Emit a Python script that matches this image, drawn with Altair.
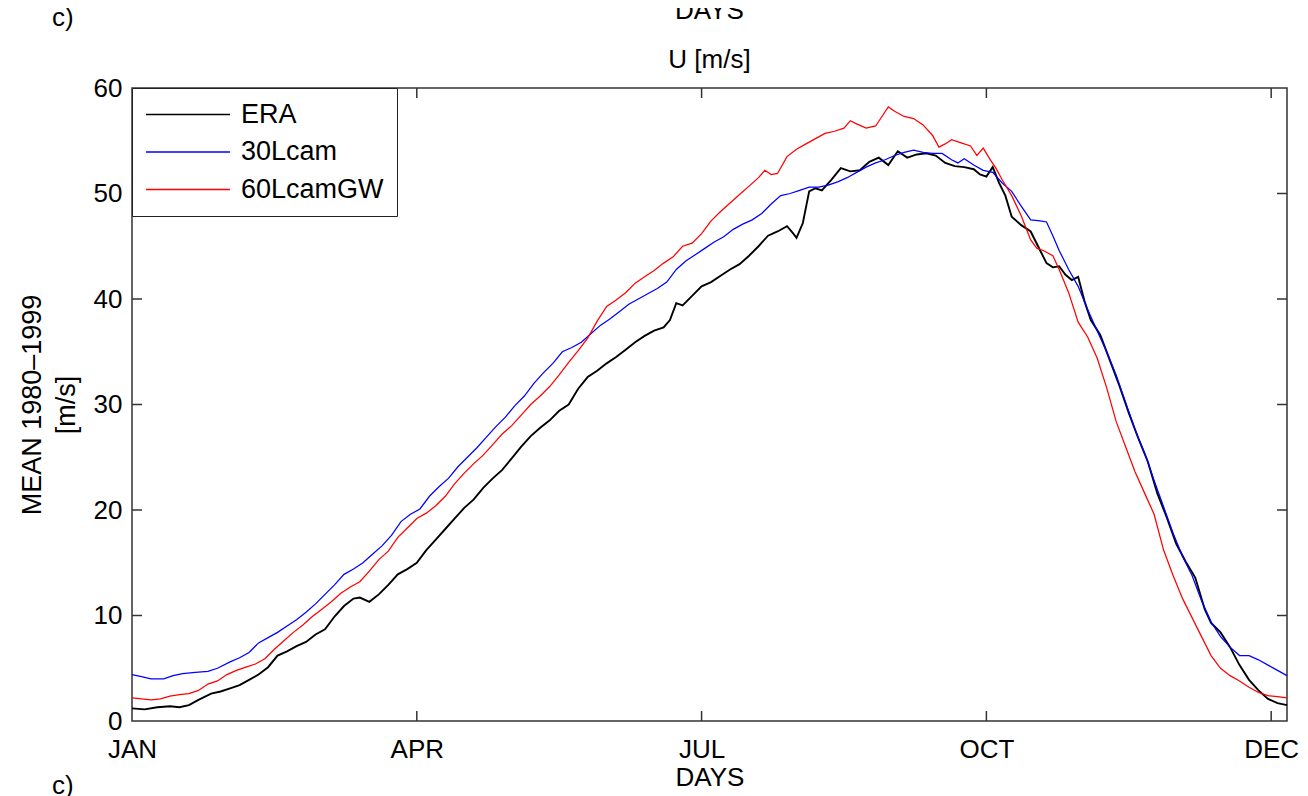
import altair as alt
import pandas as pd

FONT = "Liberation Sans"

series_names = ["ERA", "30Lcam", "60LcamGW"]
series_colors = ["#000000", "#0000ff", "#ff0000"]
series_widths = [1.9, 1.25, 1.25]

era_days = [0, 4, 8, 12, 15, 18, 21, 25, 28, 31, 34, 37, 40, 43, 46, 49, 52, 55, 58, 61, 64, 67, 70, 72, 75, 78, 81, 84, 87, 90,
            93, 96, 99, 102, 105, 108, 111, 114, 117, 120, 123, 126, 129, 132, 135, 138, 141, 144, 147, 150, 153, 156, 159, 162,
            165, 168, 170, 172, 174, 177, 180, 183, 186, 189, 192, 195, 198, 201, 204, 207, 209, 210, 212, 214, 216, 218, 221,
            224, 227, 230, 233, 236, 239, 242, 245, 248, 251, 254, 257, 260, 263, 266, 268, 270, 272, 274, 276, 278, 281, 284,
            287, 289, 291, 293, 295, 297, 299, 301, 303, 306, 309, 312, 315, 318, 321, 324, 327, 330, 333, 336, 339, 341, 344,
            347, 350, 353, 356, 359, 362, 365]
era_vals = [1.2, 1.1, 1.3, 1.4, 1.3, 1.5, 2.0, 2.6, 2.8, 3.1, 3.4, 3.9, 4.4, 5.1, 6.2, 6.6, 7.1, 7.5, 8.2, 8.7, 9.9, 10.9, 11.6,
            11.7, 11.3, 12.0, 12.9, 13.9, 14.4, 15.0, 16.2, 17.2, 18.2, 19.2, 20.2, 21.0, 22.1, 23.0, 23.8, 24.9, 26.0, 27.0,
            27.8, 28.5, 29.4, 30.0, 31.5, 32.6, 33.2, 33.9, 34.5, 35.2, 35.9, 36.5, 37.0, 37.3, 38.0, 39.6, 39.4, 40.3, 41.2,
            41.6, 42.2, 42.8, 43.3, 44.1, 45.0, 46.0, 46.4, 46.9, 46.2, 45.8, 47.2, 50.2, 50.5, 50.3, 51.3, 52.4, 52.1, 52.2,
            53.0, 53.4, 52.7, 54.0, 53.4, 53.7, 53.8, 53.6, 52.9, 52.6, 52.5, 52.3, 51.8, 51.6, 52.5, 51.0, 49.8, 47.8, 47.0,
            46.4, 44.6, 43.4, 43.0, 43.1, 42.3, 41.8, 42.1, 39.8, 38.0, 36.6, 34.2, 31.8, 29.2, 26.8, 24.6, 21.6, 19.3, 16.8,
            15.1, 13.6, 10.6, 9.3, 8.4, 7.0, 5.3, 3.9, 2.9, 2.1, 1.7, 1.5]

cam30_days = [0, 3, 6, 10, 13, 16, 20, 24, 27, 31, 34, 37, 40, 43, 46, 49, 52, 55, 58, 61, 64, 67, 70, 73, 76, 79, 82, 85, 88,
              91, 94, 97, 100, 103, 106, 109, 112, 115, 118, 121, 124, 127, 130, 133, 136, 139, 142, 145, 148, 151, 154, 157,
              160, 163, 166, 169, 172, 175, 178, 181, 184, 187, 190, 193, 196, 199, 202, 205, 208, 211, 214, 217, 220, 223,
              226, 229, 232, 235, 238, 241, 244, 247, 250, 253, 256, 259, 261, 263, 266, 269, 272, 275, 278, 281, 284, 287,
              289, 291, 293, 296, 299, 302, 305, 308, 311, 314, 317, 320, 323, 326, 329, 332, 335, 338, 341, 344, 347, 350,
              353, 356, 359, 362, 365]
cam30_vals = [4.4, 4.2, 4.0, 4.0, 4.3, 4.5, 4.6, 4.7, 5.0, 5.6, 6.0, 6.5, 7.4, 7.9, 8.4, 9.0, 9.6, 10.3, 11.1, 12.0, 12.9,
              13.9, 14.4, 15.0, 15.8, 16.6, 17.6, 18.9, 19.6, 20.1, 21.3, 22.2, 23.0, 24.1, 25.0, 25.9, 26.9, 27.9, 28.8,
              29.9, 30.8, 32.0, 33.0, 33.9, 35.0, 35.4, 35.9, 36.7, 37.5, 38.1, 38.8, 39.5, 40.0, 40.5, 41.0, 41.6, 42.8,
              43.6, 44.2, 44.8, 45.4, 45.9, 46.6, 47.1, 47.5, 48.1, 49.0, 49.8, 50.0, 50.3, 50.6, 50.6, 50.8, 51.1, 51.5,
              52.0, 52.5, 52.9, 53.2, 53.6, 53.9, 54.1, 53.9, 53.8, 53.8, 53.2, 52.9, 53.3, 52.7, 52.2, 52.0, 51.0, 50.2,
              48.8, 47.5, 47.4, 47.3, 46.0, 44.6, 42.8, 41.2, 39.0, 37.0, 35.0, 32.8, 30.2, 27.6, 25.4, 22.8, 20.3, 17.8,
              15.6, 13.8, 11.4, 9.4, 8.0, 7.0, 6.2, 6.2, 5.8, 5.3, 4.8, 4.3]

gw60_days = [0, 3, 6, 9, 12, 15, 18, 21, 24, 27, 30, 33, 36, 39, 42, 45, 48, 51, 54, 57, 60, 63, 66, 69, 72, 75, 78, 81, 84,
             87, 90, 93, 96, 99, 102, 105, 108, 111, 114, 117, 120, 123, 126, 129, 132, 135, 138, 141, 144, 147, 150, 153,
             156, 159, 162, 165, 168, 171, 174, 177, 180, 183, 186, 189, 192, 195, 198, 200, 202, 204, 207, 210, 213, 216,
             219, 222, 225, 227, 229, 232, 235, 237, 239, 241, 244, 247, 250, 253, 255, 257, 259, 262, 265, 267, 269, 271,
             273, 275, 278, 281, 284, 286, 288, 291, 293, 296, 299, 302, 305, 308, 311, 314, 317, 320, 323, 326, 329, 332,
             335, 338, 341, 344, 347, 350, 353, 356, 359, 362, 365]
gw60_vals = [2.2, 2.1, 2.0, 2.1, 2.35, 2.5, 2.6, 2.9, 3.5, 3.8, 4.4, 4.8, 5.1, 5.4, 5.9, 6.8, 7.6, 8.4, 9.1, 9.9, 10.6, 11.3,
             12.1, 12.7, 13.2, 14.2, 15.3, 16.1, 17.4, 18.3, 19.2, 19.7, 20.4, 21.3, 22.5, 23.5, 24.4, 25.2, 26.2, 27.2,
             28.0, 29.0, 30.0, 30.8, 31.7, 32.8, 34.0, 35.1, 36.3, 37.9, 39.3, 39.9, 40.6, 41.5, 42.1, 42.7, 43.4, 44.0,
             45.0, 45.3, 46.2, 47.4, 48.3, 49.1, 49.9, 50.7, 51.5, 52.2, 51.8, 51.9, 53.5, 54.2, 54.7, 55.2, 55.7, 55.9,
             56.2, 56.9, 56.6, 56.2, 56.4, 57.3, 58.2, 57.8, 57.3, 57.1, 56.5, 55.5, 54.4, 54.7, 55.1, 54.8, 54.5, 53.6,
             54.3, 53.3, 52.4, 51.3, 49.8, 47.9, 45.6, 44.8, 44.6, 44.1, 42.8, 40.6, 37.8, 36.4, 34.4, 31.6, 28.4, 26.0,
             23.6, 21.6, 19.6, 16.2, 13.8, 11.6, 9.8, 8.0, 6.2, 5.0, 4.3, 3.8, 3.2, 2.7, 2.4, 2.3, 2.2]

x_tick_values = [0, 90, 180, 270, 360]
x_tick_labels = ["JAN", "APR", "JUL", "OCT", "DEC"]
y_tick_values = [0, 10, 20, 30, 40, 50, 60]
inner_x_ticks = [90, 180, 270, 360]
inner_y_ticks = [10, 20, 30, 40, 50]

W, H = 1155, 633

series_data = {
    "ERA": (era_days, era_vals),
    "30Lcam": (cam30_days, cam30_vals),
    "60LcamGW": (gw60_days, gw60_vals),
}

label_map = "{" + ", ".join(f"'{v}': '{l}'" for v, l in zip(x_tick_values, x_tick_labels)) + "}"

xscale = alt.Scale(domain=[0, 365], nice=False, zero=False)
yscale = alt.Scale(domain=[0, 60], nice=False, zero=True)
cscale = alt.Scale(domain=series_names, range=series_colors)

x_axis = alt.Axis(values=x_tick_values, labelExpr=f"{label_map}[datum.value]", title="DAYS",
                  tickSize=0, labelPadding=15, labelFontSize=26, titleFontSize=26, labelFlush=False,
                  labelOverlap=False, titlePadding=2, domain=False, grid=False)
y_axis = alt.Axis(values=y_tick_values, title=["MEAN 1980\u20131999", "[m/s]"], tickSize=0,
                  labelPadding=10, labelFontSize=26, titleFontSize=27, titleLineHeight=34,
                  titlePadding=13, domain=False, grid=False, labelFlush=False)
legend = alt.Legend(title=None, orient="none", legendX=0, legendY=0,
                    fillColor="white", strokeColor="#222222", padding=13,
                    symbolType="stroke", symbolSize=7056, symbolStrokeWidth=1.6,
                    clipHeight=27, rowPadding=9.5, labelFontSize=27, labelOffset=10,
                    labelFont=FONT, labelColor="black", labelLimit=400)

line_layers = []
for name, width in zip(series_names, series_widths):
    ds, vs = series_data[name]
    sdf = pd.DataFrame({"day": ds, "u": vs, "series": [name] * len(ds)})
    line_layers.append(
        alt.Chart(sdf).mark_line(strokeWidth=width).encode(
            x=alt.X("day:Q", scale=xscale, axis=x_axis),
            y=alt.Y("u:Q", scale=yscale, axis=y_axis),
            color=alt.Color("series:N", scale=cscale, legend=legend),
            order=alt.Order("day:Q"),
        )
    )

xt = pd.DataFrame({"day": inner_x_ticks})
yt = pd.DataFrame({"u": inner_y_ticks})
tick_style = dict(color="#333333", strokeWidth=1.5)
bottom_ticks = alt.Chart(xt).mark_rule(**tick_style).encode(x=alt.X("day:Q", scale=xscale), y=alt.value(H), y2=alt.value(H - 10))
top_ticks = alt.Chart(xt).mark_rule(**tick_style).encode(x=alt.X("day:Q", scale=xscale), y=alt.value(0), y2=alt.value(10))
left_ticks = alt.Chart(yt).mark_rule(**tick_style).encode(y=alt.Y("u:Q", scale=yscale), x=alt.value(0), x2=alt.value(10))
right_ticks = alt.Chart(yt).mark_rule(**tick_style).encode(y=alt.Y("u:Q", scale=yscale), x=alt.value(W - 10), x2=alt.value(W))


def text_layer(txt, x, y, align="left", size=26):
    return alt.Chart(pd.DataFrame({"t": [txt]})).mark_text(
        font=FONT, fontSize=size, align=align, baseline="alphabetic", color="black"
    ).encode(text="t:N", x=alt.value(x), y=alt.value(y))


title_txt = text_layer("U [m/s]", W / 2, -20, align="center", size=26)
top_c = text_layer("c)", -80, -62)
bottom_c = text_layer("c)", -80, 706)
top_days = text_layer("DAYS", W / 2, -69, align="center")

chart = alt.layer(*line_layers, bottom_ticks, top_ticks, left_ticks, right_ticks,
                  title_txt, top_c, bottom_c, top_days).properties(
    width=W, height=H,
    autosize=alt.AutoSizeParams(type="none"),
    padding={"left": 124, "top": 80, "right": 13, "bottom": 75},
).configure(
    font=FONT,
).configure_view(
    stroke="#333333", strokeWidth=1.5,
).configure_axis(
    labelFont=FONT, titleFont=FONT, labelColor="black", titleColor="black", titleFontWeight="normal",
)

chart.save("out.html", embed_options={"renderer": "svg", "actions": False})
